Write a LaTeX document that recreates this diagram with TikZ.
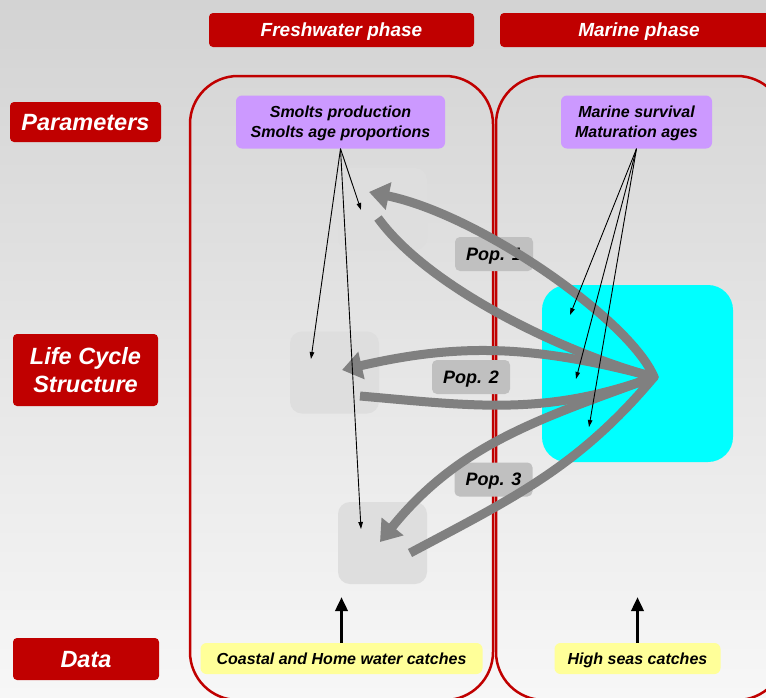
\documentclass[tikz,border=0pt]{standalone}
\usepackage{fontspec}
\setmainfont{Liberation Sans}
\usetikzlibrary{arrows.meta,positioning,calc}
\definecolor{phasered}{HTML}{C00000}
\definecolor{parlilac}{HTML}{CC99FF}
\definecolor{datayellow}{HTML}{FFFF99}
\definecolor{seacyan}{HTML}{00FFFF}
\definecolor{popgray}{HTML}{808080}
\definecolor{poplabel}{HTML}{C0C0C0}
\definecolor{stagegray}{HTML}{DEDEDE}
\definecolor{bgtop}{HTML}{D3D3D3}
\definecolor{bgbottom}{HTML}{F7F7F7}
\tikzstyle{headbox} = [rectangle, fill=phasered, rounded corners=4pt, text=white, text depth=0pt,
    font=\fontsize{19}{22}\selectfont\bfseries\itshape, inner sep=0pt]
\tikzstyle{rowlabel} = [headbox, font=\fontsize{23.5}{28}\selectfont\bfseries\itshape, align=center]
\tikzstyle{phaseframe} = [rectangle, draw=phasered, line width=2.5pt, rounded corners=48pt, inner sep=0pt]
\tikzstyle{parbox} = [rectangle, fill=parlilac, rounded corners=6pt, align=center, text depth=0pt,
    font=\fontsize{16}{20}\selectfont\bfseries\itshape, inner sep=0pt]
\tikzstyle{databox} = [parbox, fill=datayellow]
\tikzstyle{stagebox} = [rectangle, fill=stagegray, rounded corners=12pt, minimum width=89pt, minimum height=82pt, inner sep=0pt]
\tikzstyle{poplbl} = [rectangle, fill=poplabel, rounded corners=5pt, minimum width=78pt, minimum height=34pt, text depth=0pt,
    font=\fontsize{18}{20}\selectfont\bfseries\itshape, inner sep=0pt]
\tikzstyle{popflow} = [-{Triangle[length=20pt,width=27pt]}, line width=9pt, popgray, line join=round]
\tikzstyle{paramlink} = [-{Triangle[length=7pt,width=4.5pt]}, line width=0.9pt, black]
\tikzstyle{datalink} = [-{Triangle[length=14pt,width=12pt]}, line width=3.5pt, black]

\begin{document}
\begin{tikzpicture}[x=1pt,y=1pt]
\useasboundingbox (0,0) rectangle (766,-697);
\clip (0,0) rectangle (766,-697);
\shade[top color=bgtop, bottom color=bgbottom] (0,0) rectangle (766,-697);

% phase headers
\node[headbox, minimum width=265pt, minimum height=34pt] (fwhead) at (341.5,-30) {Freshwater phase};
\node[headbox, minimum width=278pt, minimum height=34pt] (seahead) at (639,-30) {Marine phase};

% row labels
\node[rowlabel, minimum width=151pt, minimum height=40pt] (parlbl) at (85.5,-122) {Parameters};
\node[rowlabel, minimum width=145pt, minimum height=72pt] (lifelbl) at (85.5,-370) {Life Cycle\\Structure};
\node[rowlabel, minimum width=146pt, minimum height=42pt] (datalbl) at (86,-659) {Data};

% phase frames
\node[phaseframe, minimum width=303pt, minimum height=624pt] (fwframe) at (341.5,-388) {};
\node[phaseframe, minimum width=289pt, minimum height=624pt] (seaframe) at (640.5,-388) {};

% parameters
\node[parbox, minimum width=209pt, minimum height=53pt] (smoltpar) at (340.5,-122) {Smolts production\\Smolts age proportions};
\node[parbox, minimum width=151pt, minimum height=53pt] (marpar) at (636.5,-122) {Marine survival\\Maturation ages};

% life stages
\node[stagebox] (stage1) at (382.5,-209) {};
\node[stagebox] (stage2) at (334.5,-372.5) {};
\node[stagebox] (stage3) at (382.5,-543) {};
\node[rectangle, fill=seacyan, rounded corners=25pt, minimum width=191pt, minimum height=177pt, inner sep=0pt] (sea) at (637.5,-373.5) {};

% data
\node[databox, minimum width=282pt, minimum height=31pt] (coastal) at (341.5,-658.5) {Coastal and Home water catches};
\node[databox, minimum width=166pt, minimum height=31pt] (highseas) at (637.5,-658.5) {High seas catches};

% population labels
\node[poplbl] (pop1) at (494,-254) {Pop. 1};
\node[poplbl] (pop2) at (471,-377) {Pop. 2};
\node[poplbl] (pop3) at (493.5,-479.5) {Pop. 3};

% migration loops
\coordinate (apex) at (654,-377);
\coordinate (out1) at (378,-218);
\coordinate (in1) at (369,-192);
\coordinate (out2) at (360,-396);
\coordinate (in2) at (342,-370);
\coordinate (out3) at (410,-553);
\coordinate (in3) at (380,-542);
\draw[popflow] (out1) .. controls (430,-290) and (570,-355) .. (apex)
    .. controls (630,-320) and (480,-215) .. (in1);
\draw[popflow] (out2) to[out=-5,in=200] (apex) to[out=165,in=13] (in2);
\draw[popflow] (out3) to[out=28,in=230] (apex) to[out=200,in=51] (in3);

% parameter links
\coordinate (smolt1) at (361,-210);
\coordinate (smolt2) at (311,-359);
\coordinate (smolt3) at (361,-529);
\coordinate (mar1) at (570,-315);
\coordinate (mar2) at (576,-379);
\coordinate (mar3) at (589,-427);
\draw[paramlink] (smoltpar.south) -- (smolt1);
\draw[paramlink] (smoltpar.south) -- (smolt2);
\draw[paramlink] (smoltpar.south) -- (smolt3);
\draw[paramlink] (marpar.south) -- (mar1);
\draw[paramlink] (marpar.south) -- (mar2);
\draw[paramlink] (marpar.south) -- (mar3);

% data links
\coordinate (coastup) at (341.5,-597);
\coordinate (seasup) at (637.5,-597);
\draw[datalink] (coastal.north) -- (coastup);
\draw[datalink] (highseas.north) -- (seasup);
\end{tikzpicture}
\end{document}
